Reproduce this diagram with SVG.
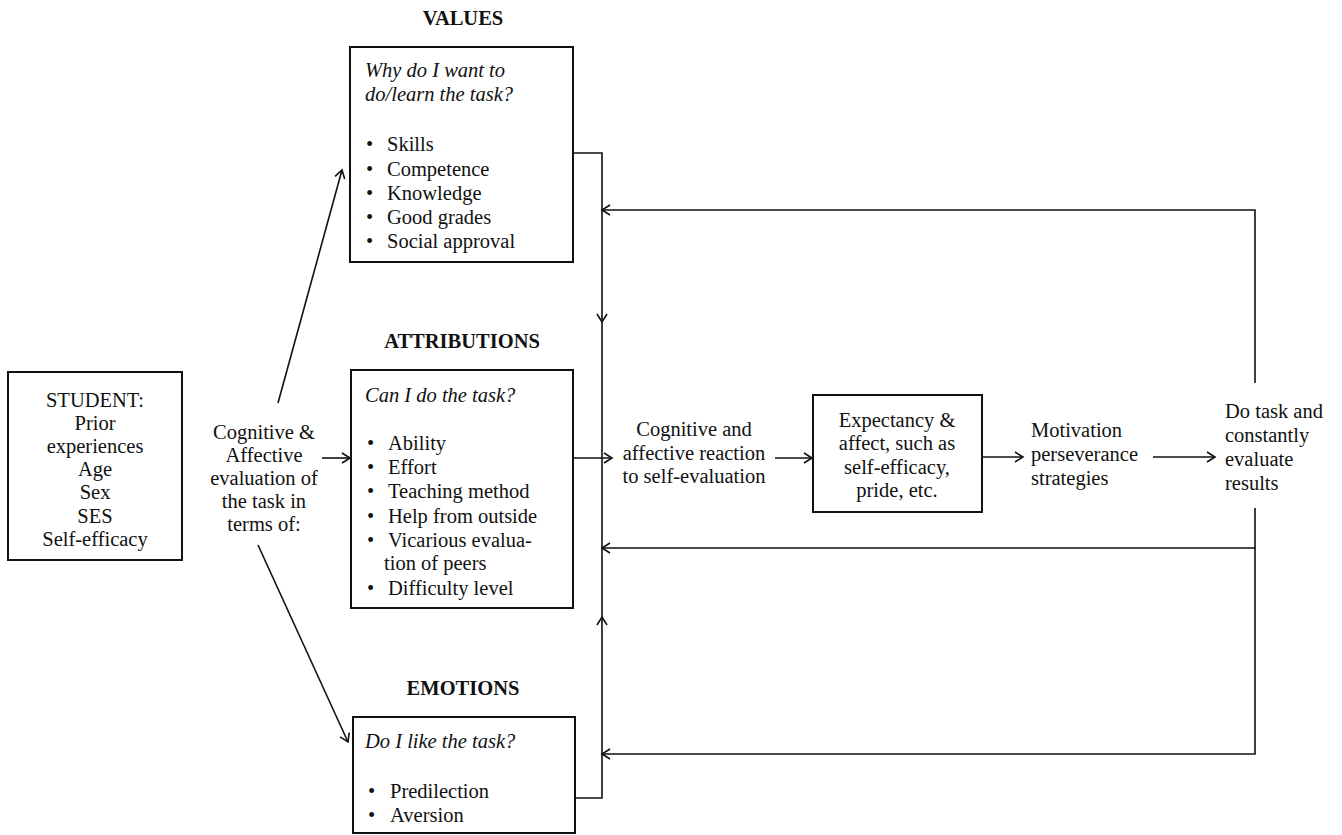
<svg xmlns="http://www.w3.org/2000/svg" width="1342" height="835" viewBox="0 0 1342 835">
<style>
text{font-family:"Liberation Serif","Times New Roman",serif;font-size:20.5px;fill:#111}
.h{font-weight:bold;text-anchor:middle}
.q{font-style:italic}
.c{text-anchor:middle}
.box{fill:none;stroke:#111;stroke-width:2}
.ln{fill:none;stroke:#111;stroke-width:1.6}
</style>
<defs>
<marker id="ah" markerUnits="userSpaceOnUse" markerWidth="12" markerHeight="12" refX="0" refY="0" viewBox="-10 -6 12 12" orient="auto" overflow="visible">
<path d="M-8,-5 L0,0 L-8,5" fill="none" stroke="#111" stroke-width="1.6"/>
</marker>
</defs>
<g id="student">
<rect class="box" x="8" y="372" width="174" height="188"/>
<text class="c" x="95" y="407">STUDENT:</text>
<text class="c" x="95" y="430">Prior</text>
<text class="c" x="95" y="453">experiences</text>
<text class="c" x="95" y="476">Age</text>
<text class="c" x="95" y="499">Sex</text>
<text class="c" x="95" y="523">SES</text>
<text class="c" x="95" y="546">Self-efficacy</text>
</g>
<g id="evaluation">
<text class="c" x="264" y="439">Cognitive &amp;</text>
<text class="c" x="264" y="462">Affective</text>
<text class="c" x="264" y="485">evaluation of</text>
<text class="c" x="264" y="508">the task in</text>
<text class="c" x="264" y="531">terms of:</text>
</g>
<g id="values">
<text class="h" x="463" y="25">VALUES</text>
<rect class="box" x="350" y="47" width="223" height="215"/>
<text class="q" x="365" y="77">Why do I want to</text>
<text class="q" x="365" y="101">do/learn the task?</text>
<text x="366" y="151">•</text><text x="387" y="151">Skills</text>
<text x="366" y="176">•</text><text x="387" y="176">Competence</text>
<text x="366" y="200">•</text><text x="387" y="200">Knowledge</text>
<text x="366" y="224">•</text><text x="387" y="224">Good grades</text>
<text x="366" y="248">•</text><text x="387" y="248">Social approval</text>
</g>
<g id="attributions">
<text class="h" x="462" y="348">ATTRIBUTIONS</text>
<rect class="box" x="351" y="370" width="222" height="238"/>
<text class="q" x="365" y="402">Can I do the task?</text>
<text x="367" y="450">•</text><text x="388" y="450">Ability</text>
<text x="367" y="474">•</text><text x="388" y="474">Effort</text>
<text x="367" y="498">•</text><text x="388" y="498">Teaching method</text>
<text x="367" y="523">•</text><text x="388" y="523">Help from outside</text>
<text x="367" y="547">•</text><text x="388" y="547">Vicarious evalua-</text>
<text x="384" y="570">tion of peers</text>
<text x="367" y="595">•</text><text x="388" y="595">Difficulty level</text>
</g>
<g id="emotions">
<text class="h" x="463" y="695">EMOTIONS</text>
<rect class="box" x="353" y="717" width="222" height="116"/>
<text class="q" x="365" y="748">Do I like the task?</text>
<text x="368" y="798">•</text><text x="390" y="798">Predilection</text>
<text x="368" y="822">•</text><text x="390" y="822">Aversion</text>
</g>
<g id="reaction">
<text class="c" x="694" y="436">Cognitive and</text>
<text class="c" x="694" y="460">affective reaction</text>
<text class="c" x="694" y="483">to self-evaluation</text>
</g>
<g id="expectancy">
<rect class="box" x="813" y="395" width="169" height="117"/>
<text class="c" x="897" y="427">Expectancy &amp;</text>
<text class="c" x="897" y="450">affect, such as</text>
<text class="c" x="897" y="474">self-efficacy,</text>
<text class="c" x="897" y="497">pride, etc.</text>
</g>
<g id="motivation">
<text x="1031" y="437">Motivation</text>
<text x="1031" y="461">perseverance</text>
<text x="1031" y="485">strategies</text>
</g>
<g id="dotask">
<text x="1225" y="418">Do task and</text>
<text x="1225" y="442">constantly</text>
<text x="1225" y="466">evaluate</text>
<text x="1225" y="490">results</text>
</g>
<g id="connectors">
<path class="ln" d="M278,403 L342,170" marker-end="url(#ah)"/>
<path class="ln" d="M258,545 L348,742" marker-end="url(#ah)"/>
<path class="ln" d="M322,458 H350" marker-end="url(#ah)"/>
<path class="ln" d="M573,153 H602 V322" marker-end="url(#ah)"/>
<path class="ln" d="M602,322 V458"/>
<path class="ln" d="M575,798 H602 V617" marker-end="url(#ah)"/>
<path class="ln" d="M602,617 V458"/>
<path class="ln" d="M573,458 H612" marker-end="url(#ah)"/>
<path class="ln" d="M775,458 H812" marker-end="url(#ah)"/>
<path class="ln" d="M982,457 H1023" marker-end="url(#ah)"/>
<path class="ln" d="M1153,457 H1215" marker-end="url(#ah)"/>
<path class="ln" d="M1255,383 V210 H602" marker-end="url(#ah)"/>
<path class="ln" d="M1255,508 V548 H602" marker-end="url(#ah)"/>
<path class="ln" d="M1255,548 V754 H602" marker-end="url(#ah)"/>
</g>
</svg>
